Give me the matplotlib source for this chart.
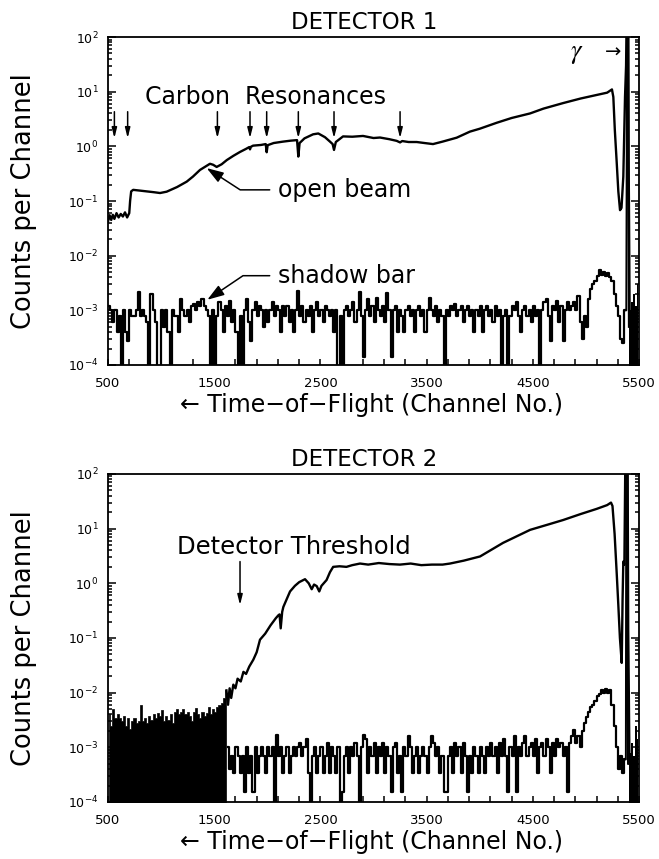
import numpy as np
import matplotlib
matplotlib.use("Agg")
import matplotlib.pyplot as plt
from matplotlib.ticker import FixedLocator, LogLocator, NullFormatter

plt.rcParams['font.family'] = ['DejaVu Sans']
plt.rcParams['mathtext.fontset'] = 'dejavusans'

BIN = 20  # channels per bin of the noisy spectra

# ---------------- Detector 1 ----------------
# open beam: (channel, counts per channel)
ob1 = [(500, 0.042), (515, 0.055), (530, 0.045), (545, 0.056), (560, 0.047),
       (580, 0.06), (600, 0.05), (620, 0.058), (640, 0.052), (660, 0.062),
       (680, 0.05), (700, 0.06), (708, 0.10), (718, 0.15), (737, 0.16),
       (800, 0.155), (864, 0.15), (930, 0.145), (990, 0.14), (1052, 0.148),
       (1150, 0.18), (1241, 0.226), (1300, 0.28), (1366, 0.37), (1420, 0.43),
       (1460, 0.48), (1490, 0.46), (1523, 0.42), (1570, 0.47), (1618, 0.56),
       (1680, 0.67), (1743, 0.79), (1800, 0.9), (1830, 0.97), (1837, 0.88),
       (1845, 0.98), (1866, 1.03), (1940, 1.06), (1985, 1.1), (1994, 0.78),
       (2003, 1.05), (2060, 1.15), (2148, 1.22), (2220, 1.27), (2280, 1.3),
       (2292, 0.65), (2304, 1.15), (2350, 1.4), (2431, 1.66), (2480, 1.72),
       (2543, 1.47), (2590, 1.22), (2615, 1.1), (2628, 0.86), (2645, 1.2),
       (2713, 1.52), (2800, 1.5), (2901, 1.55), (3000, 1.42), (3061, 1.45),
       (3150, 1.35), (3218, 1.26), (3250, 1.18), (3270, 1.25), (3330, 1.2),
       (3407, 1.2), (3480, 1.15), (3560, 1.1), (3650, 1.22), (3783, 1.44),
       (3908, 1.86), (4000, 2.1), (4160, 2.7), (4300, 3.3), (4474, 4.0),
       (4600, 4.9), (4787, 6.2), (4950, 7.5), (5100, 8.7), (5200, 9.6),
       (5245, 11.0), (5258, 8.0), (5272, 2.0), (5290, 0.5), (5305, 0.15),
       (5321, 0.068), (5335, 0.075), (5352, 0.28), (5368, 8.0), (5378, 30),
       (5384, 300), (5398, 300), (5402, 0.6), (5406, 0.045), (5412, 0.0005)]

# shadow bar: 20 channel bins from 500 to 5380, units of 1e-4 counts
sb1_start = 500
sb1 = [12, 10, 6, 10, 4, 8, 0, 10, 4, 2.7,
       10, 8, 8, 10, 22, 8, 10, 8, 6, 0,
       20, 10, 6, 0, 0, 10, 5, 10, 4, 0,
       10, 8, 8, 4, 16, 10, 8, 10, 6, 12,
       13, 10, 14, 12, 16, 12, 10, 8, 0, 10,
       0, 8, 14, 10, 4, 12, 8, 15, 6, 10,
       4, 0, 8, 0, 10, 16, 6, 2.7, 10, 14,
       8, 12, 10, 5, 10, 6, 10, 14, 8, 12,
       10, 4, 12, 8, 12, 6, 10, 4, 10, 23,
       8, 12, 6, 10, 8, 12, 4, 10, 14, 8,
       10, 6, 12, 10, 8, 10, 4, 10, 0, 8,
       0, 10, 12, 8, 10, 14, 6, 10, 22, 8,
       1.4, 10, 16, 8, 12, 6, 17, 10, 8, 12,
       6, 21, 10, 1.4, 10, 12, 4, 10, 8, 4,
       10, 12, 8, 10, 4, 10, 12, 8, 10, 4,
       10, 17, 10, 8, 12, 6, 10, 8, 0, 10,
       8, 12, 10, 13, 8, 10, 12, 6, 10, 12,
       8, 10, 4, 10, 8, 12, 4, 10, 12, 8,
       10, 6, 12, 8, 10, 0, 8, 10, 0, 8,
       12, 10, 14, 8, 4, 10, 12, 8, 10, 6,
       12, 8, 10, 0, 10, 14, 16, 8, 2.7, 12,
       10, 15, 6, 12, 2.7, 10, 14, 10, 12, 14,
       10, 18, 6, 3, 8, 5, 16, 25, 30, 35,
       42, 55, 45, 50, 42, 48, 40, 35, 20, 12,
       8, 3, 2.5, 10]
# gamma flash seen behind the shadow bar
sb1_gamma = [(5370, 1.0e-3), (5380, 1.0e-3), (5388, 300), (5398, 300), (5404, 5e-4)]
# dense noise after the flash, upper envelope, units of 1e-4
tail1_ch = [5410, 5430, 5450, 5470, 5490]
tail1 = [10, 14, 20, 12, 30]

# ---------------- Detector 2 ----------------
# open beam below the detector threshold: upper envelope of the
# dense noise, 20 channel bins from 500 to 1620, units of 1e-4
ob2_noise_start = 500
ob2_noise = [40, 25, 50, 35, 40, 35,
             30, 38, 25, 35, 22, 30, 35, 28, 30,
             60, 30, 35, 28, 38, 32, 40, 35, 42, 38,
             48, 30, 38, 32, 40, 28, 45, 50, 40, 45,
             50, 40, 45, 38, 30, 45, 52, 40, 35, 45,
             38, 42, 55, 40, 50, 45, 55, 60, 65, 80, 110]
# open beam above threshold: (channel, counts per channel)
ob2 = [(1615, 0.011), (1630, 0.006), (1645, 0.012), (1660, 0.008), (1680, 0.014),
       (1700, 0.012), (1720, 0.018), (1750, 0.016), (1775, 0.024), (1800, 0.022),
       (1830, 0.03), (1868, 0.04), (1900, 0.055), (1931, 0.093), (1980, 0.12),
       (2030, 0.17), (2080, 0.23), (2104, 0.26), (2115, 0.27), (2126, 0.15),
       (2140, 0.3), (2151, 0.37), (2180, 0.5), (2214, 0.71), (2260, 0.9),
       (2300, 1.05), (2355, 1.19), (2390, 1.0), (2418, 0.78), (2440, 0.95),
       (2465, 0.89), (2489, 0.71), (2510, 0.9), (2558, 1.15), (2590, 1.6),
       (2620, 2.0), (2680, 2.05), (2745, 2.0), (2800, 2.15), (2873, 2.3),
       (2950, 2.2), (3050, 2.35), (3150, 2.25), (3249, 2.2), (3350, 2.3),
       (3450, 2.15), (3550, 2.2), (3650, 2.2), (3720, 2.3), (3850, 2.6),
       (4003, 3.1), (4220, 5.5), (4474, 9.5), (4650, 12.0), (4786, 14.4),
       (4950, 18.5), (5101, 23.0), (5200, 27.0), (5236, 30.0), (5250, 26.0),
       (5270, 8.0), (5290, 1.5), (5305, 0.4), (5320, 0.1), (5337, 0.035),
       (5345, 0.5), (5352, 2.5), (5362, 2.2), (5372, 300), (5392, 300),
       (5398, 0.14), (5403, 0.015), (5410, 0.0005)]
# shadow bar: 20 channel bins from 1620 to 5380, units of 1e-4
sb2_start = 1620
sb2 = [10, 4, 7, 3.4,
       10, 7, 3.4, 7, 1.5, 10, 3.4, 7, 1.5, 10,
       3.4, 7, 10, 7, 3.4, 10, 7, 10, 0, 17,
       7, 10, 3.4, 7, 10, 3.4, 7, 10, 7, 10,
       12, 7, 10, 14, 3.4, 0, 7, 10, 3.4, 7,
       10, 3.4, 7, 12, 3.4, 10, 7, 3.4, 10, 0,
       1.5, 7, 10, 3.4, 10, 7, 12, 7, 0, 10,
       17, 14, 3.4, 10, 7, 12, 3.4, 10, 7, 12,
       3.4, 10, 7, 1.5, 10, 12, 3.4, 7, 1.5, 10,
       7, 16, 10, 3.4, 7, 10, 3.4, 7, 10, 7,
       3.4, 10, 16, 12, 7, 10, 3.4, 7, 1.5, 1.5,
       7, 10, 3.4, 12, 7, 10, 3.4, 12, 7, 1.5,
       7, 3.4, 10, 7, 3.4, 10, 7, 3.4, 10, 7,
       12, 7, 10, 3.4, 12, 7, 14, 7, 1.5, 10,
       7, 16, 1.5, 10, 7, 12, 16, 7, 10, 12,
       7, 14, 3.4, 10, 12, 7, 14, 10, 3.4, 12,
       7, 14, 10, 12, 7, 10, 1.5, 12, 16, 21,
       12, 16, 10, 20, 28, 36, 45, 55, 60, 70,
       85, 95, 110, 100, 115, 100, 110, 60, 25, 10,
       4, 7, 3.4, 6]
sb2_gamma = [(5370, 6e-4), (5376, 6e-4), (5380, 300), (5390, 300), (5396, 5e-4)]
tail2_ch = [5410, 5430, 5450, 5470, 5490]
tail2 = [8, 12, 7, 25, 14]

# annotations
resonance_ch = [560, 685, 1530, 1837, 1994, 2292, 2628, 3250]
xticks = [500, 1500, 2500, 3500, 4500, 5500]


def bin_centers(start, n):
    return start + BIN * np.arange(n) + BIN / 2


def to_counts(vals):
    v = np.asarray(vals, dtype=float) * 1e-4
    return np.where(v > 0, v, 1e-7)


def setup(ax, title):
    ax.set_yscale('log')
    ax.set_xlim(500, 5500)
    ax.set_ylim(1e-4, 1e2)
    ax.xaxis.set_major_locator(FixedLocator(xticks))
    ax.xaxis.set_minor_locator(FixedLocator(list(range(700, 5500, 200))))
    ax.yaxis.set_major_locator(LogLocator(base=10, numticks=10))
    ax.yaxis.set_minor_locator(LogLocator(base=10, subs=np.arange(2, 10), numticks=100))
    ax.yaxis.set_minor_formatter(NullFormatter())
    ax.tick_params(which='both', direction='in', top=False, right=True, width=1.1)
    ax.tick_params(axis='y', which='major', length=5.5, labelsize=9, pad=7)
    ax.tick_params(axis='y', which='minor', length=3)
    ax.tick_params(axis='x', which='both', length=4, labelsize=9.5, pad=9)
    for s in ax.spines.values():
        s.set_linewidth(1.3)
    ax.text(0.482, 1.023, title, transform=ax.transAxes, ha='center',
            va='baseline', fontsize=16.5)
    ax.text(0.496, -0.143, '\u2190 Time\u2212of\u2212Flight (Channel No.)',
            transform=ax.transAxes, ha='center', va='baseline', fontsize=17)
    ax.text(-0.158, 0.5, 'Counts per Channel', transform=ax.transAxes,
            rotation=90, ha='center', va='center', fontsize=18.5)


fig = plt.figure(figsize=(6.59, 8.59), dpi=100)
ax1 = fig.add_axes([0.1639, 0.5751, 0.8058, 0.3818])
ax2 = fig.add_axes([0.1639, 0.0664, 0.8058, 0.3818])

# ---- detector 1 ----
setup(ax1, 'DETECTOR 1')
x, y = zip(*ob1)
ax1.plot(x, y, color='k', lw=1.7)
ax1.plot(bin_centers(sb1_start, len(sb1)), to_counts(sb1), color='k',
         lw=1.6, drawstyle='steps-mid')
x, y = zip(*sb1_gamma)
ax1.plot(x, y, color='k', lw=1.4)
ax1.fill_between(tail1_ch, 1e-7, to_counts(tail1), step='mid', color='k', lw=0)

ax1.text(1980, 8.0, 'Carbon  Resonances', ha='center', va='center', fontsize=17)
for ch in resonance_ch:
    ax1.annotate('', xy=(ch, 1.41), xytext=(ch, 4.3),
                 arrowprops=dict(arrowstyle='-|>,head_length=0.6,head_width=0.15',
                                 color='k', lw=1.1, shrinkA=0, shrinkB=0))
ax1.annotate('open beam', xy=(1429, 0.40), xytext=(2101, 0.16), ha='left',
             va='center', fontsize=17,
             arrowprops=dict(arrowstyle='-|>,head_length=0.6,head_width=0.2',
                             connectionstyle='angle,angleA=0,angleB=-33,rad=0',
                             color='k', lw=1.1, shrinkA=4, shrinkB=0))
ax1.annotate('shadow bar', xy=(1435, 1.56e-3), xytext=(2101, 4.3e-3), ha='left',
             va='center', fontsize=17,
             arrowprops=dict(arrowstyle='-|>,head_length=0.6,head_width=0.2',
                             connectionstyle='angle,angleA=0,angleB=34,rad=0',
                             color='k', lw=1.1, shrinkA=4, shrinkB=0))
ax1.text(4916, 51, r'$\gamma$', ha='center', va='center', fontsize=19,
         math_fontfamily='stix')
ax1.text(5255, 53, '\u2192', ha='center', va='center', fontsize=14)

# ---- detector 2 ----
setup(ax2, 'DETECTOR 2')
ax2.fill_between(bin_centers(ob2_noise_start, len(ob2_noise)), 1e-7,
                 to_counts(ob2_noise), step='mid', color='k', lw=0.5)
x, y = zip(*ob2)
ax2.plot(x, y, color='k', lw=1.7)
ax2.plot(bin_centers(sb2_start, len(sb2)), to_counts(sb2), color='k',
         lw=1.6, drawstyle='steps-mid')
x, y = zip(*sb2_gamma)
ax2.plot(x, y, color='k', lw=1.4)
ax2.fill_between(tail2_ch, 1e-7, to_counts(tail2), step='mid', color='k', lw=0)

ax2.text(2251, 4.7, 'Detector Threshold', ha='center', va='center', fontsize=17.5)
ax2.annotate('', xy=(1743, 0.40), xytext=(1743, 2.5),
             arrowprops=dict(arrowstyle='-|>,head_length=0.6,head_width=0.15',
                             color='k', lw=1.1, shrinkA=0, shrinkB=0))

fig.savefig('out.png', dpi=100)
